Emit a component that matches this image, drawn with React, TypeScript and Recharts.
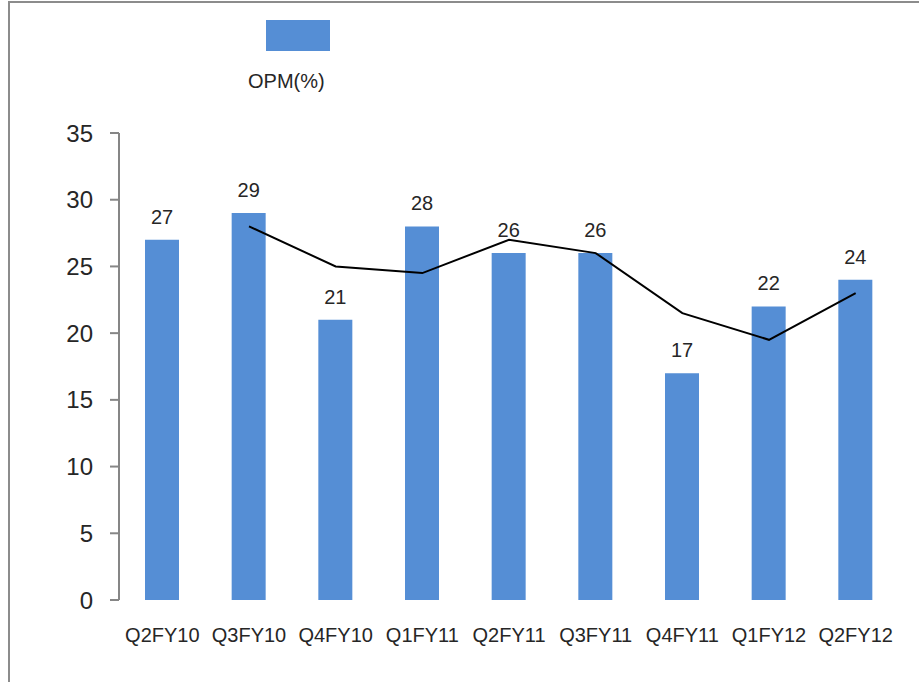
import { ComposedChart, Bar, Line, XAxis, YAxis, LabelList } from 'recharts'

const quarters = ['Q2FY10', 'Q3FY10', 'Q4FY10', 'Q1FY11', 'Q2FY11', 'Q3FY11', 'Q4FY11', 'Q1FY12', 'Q2FY12']
const opm = [27, 29, 21, 28, 26, 26, 17, 22, 24]
const trend = [null, 28, 25, 24.5, 27, 26, 21.5, 19.5, 23]
const yTicks = [0, 5, 10, 15, 20, 25, 30, 35]
const boundaryTicks = [0, 1, 2, 3, 4, 5, 6, 7, 8, 9]

const data = quarters.map((q, i) => ({ name: q, opm: opm[i], trend: trend[i] }))

const FONT = '"Liberation Sans", Arial, sans-serif'
const TEXT = '#262626'
const AXIS = '#868686'
const BLUE = '#558ed5'

function LegendBox() {
    return (
        <div style={{ position: 'absolute', left: 248, top: 20, width: 82, fontFamily: FONT }}>
            <div style={{ width: 64, height: 31, marginLeft: 18, background: BLUE }} />
            <div style={{ marginTop: 19, fontSize: 20, color: TEXT, lineHeight: '23px', whiteSpace: 'nowrap' }}>OPM(%)</div>
        </div>
    )
}

export default function App() {
    return (
        <div style={{ position: 'absolute', left: 0, top: 0, width: 919, height: 682 }}>
            <div
                style={{
                    position: 'absolute',
                    left: 8,
                    top: 1,
                    width: 911,
                    height: 681,
                    boxSizing: 'border-box',
                    borderTop: '2px solid #8c8c8c',
                    borderLeft: '2px solid #8c8c8c'
                }}
            />
            <div style={{ position: 'absolute', left: 0, top: 0 }}>
                <ComposedChart
                    width={919}
                    height={682}
                    data={data}
                    margin={{ top: 133, right: 20, bottom: 0, left: 0 }}
                    style={{ fontFamily: FONT }}
                >
                    <XAxis
                        xAxisId="bounds"
                        type="number"
                        domain={[0, 9]}
                        ticks={boundaryTicks}
                        allowDataOverflow
                        height={0}
                        axisLine={{ stroke: AXIS, strokeWidth: 2 }}
                        tickLine={{ stroke: AXIS, strokeWidth: 2 }}
                        tickSize={6}
                        tickFormatter={() => ''}
                    />
                    <XAxis
                        dataKey="name"
                        height={82}
                        axisLine={false}
                        tickLine={false}
                        tickSize={6}
                        tickMargin={22}
                        interval={0}
                        tick={{ fill: TEXT, fontSize: 20 }}
                    />
                    <YAxis
                        width={119}
                        domain={[0, 35]}
                        ticks={yTicks}
                        axisLine={{ stroke: AXIS, strokeWidth: 2 }}
                        tickLine={{ stroke: AXIS, strokeWidth: 2 }}
                        tickSize={9}
                        tickMargin={17}
                        tick={{ fill: TEXT, fontSize: 24 }}
                    />
                    <Bar dataKey="opm" fill={BLUE} barSize={34} isAnimationActive={false}>
                        <LabelList dataKey="opm" position="top" offset={16} fill={TEXT} fontSize={20} />
                    </Bar>
                    <Line
                        dataKey="trend"
                        stroke="#000000"
                        strokeWidth={2}
                        dot={false}
                        legendType="none"
                        connectNulls={false}
                        isAnimationActive={false}
                    />
                </ComposedChart>
            </div>
            <LegendBox />
        </div>
    )
}
